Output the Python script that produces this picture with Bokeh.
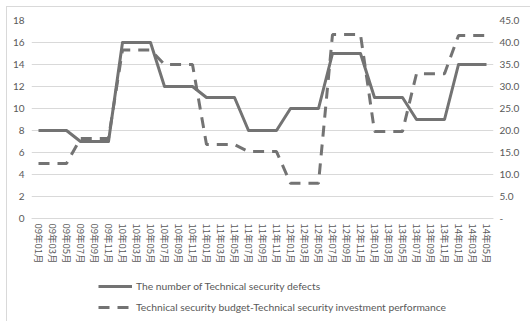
from bokeh.plotting import figure
from bokeh.models import (FactorRange, Range1d, LinearAxis, FixedTicker,
                          Legend, LegendItem, ColumnDataSource)
from bokeh.embed import file_html
from bokeh.resources import INLINE

# Bi-monthly periods, 2009-01 .. 2014-05
months = [
    "09年01月", "09年03月", "09年05月", "09年07月", "09年09月", "09年11月",
    "10年01月", "10年03月", "10年05月", "10年07月", "10年09月", "10年11月",
    "11年01月", "11年03月", "11年05月", "11年07月", "11年09月", "11年11月",
    "12年01月", "12年03月", "12年05月", "12年07月", "12年09月", "12年11月",
    "13年01月", "13年03月", "13年05月", "13年07月", "13年09月", "13年11月",
    "14年01月", "14年03月", "14年05月",
]

# Number of technical security defects (left axis)
defects = [8, 8, 8, 7, 7, 7, 16, 16, 16, 12, 12, 12, 11, 11, 11, 8, 8, 8,
           10, 10, 10, 15, 15, 15, 11, 11, 11, 9, 9, 9, 14, 14, 14]

# Budget vs. investment performance (right axis)
budget = [12.5, 12.5, 12.5, 18.2, 18.2, 18.2, 38.3, 38.3, 38.3, 35.0, 35.0, 35.0,
          16.8, 16.8, 16.8, 15.2, 15.2, 15.2, 8.0, 8.0, 8.0, 41.8, 41.8, 41.8,
          19.8, 19.8, 19.8, 32.9, 32.9, 32.9, 41.6, 41.6, 41.6]

left_ticks = [0, 2, 4, 6, 8, 10, 12, 14, 16, 18]
right_ticks = [0, 5, 10, 15, 20, 25, 30, 35, 40, 45]
right_labels = ["-", "5.0", "10.0", "15.0", "20.0", "25.0", "30.0", "35.0", "40.0", "45.0"]

series_names = ["The number of Technical security defects",
                "Technical security budget-Technical security investment performance"]

FONT = "Lato"
TEXT = "#595959"
GRID = "#d9d9d9"
LINE = "#737373"

# The frame runs down to the bottom of the chart so the category labels and
# the legend sit inside it; 0..18 on the left scale spans 198 px.
FRAME_H = 300
PX_PER_UNIT = 198 / 18
left_lo = 18 - FRAME_H / PX_PER_UNIT
right_lo = left_lo * 45 / 18

src = ColumnDataSource(dict(month=months, defects=defects, budget=budget))

p = figure(frame_width=462, frame_height=FRAME_H,
           x_range=FactorRange(factors=months, range_padding=0),
           y_range=Range1d(left_lo, 18),
           output_backend="svg", toolbar_location=None,
           min_border_left=24, min_border_right=38,
           min_border_top=13, min_border_bottom=2)
p.margin = (6, 0, 0, 6)
p.styles = {"border-left": f"1px solid {GRID}", "border-top": f"1px solid {GRID}"}
p.outline_line_color = None
p.background_fill_color = "white"
p.border_fill_color = "white"

p.extra_y_ranges = {"budget": Range1d(right_lo, 45)}

r1 = p.line("month", "defects", source=src, line_color=LINE, line_width=3,
            line_join="round")
r2 = p.line("month", "budget", source=src, y_range_name="budget",
            line_color=LINE, line_width=3, line_dash="11 8")


def plain_axis(axis, font, size, standoff):
    axis.axis_line_color = None
    axis.major_tick_line_color = None
    axis.minor_tick_line_color = None
    axis.major_tick_out = 0
    axis.major_tick_in = 0
    axis.minor_tick_out = 0
    axis.minor_tick_in = 0
    axis.major_label_text_font = font
    axis.major_label_text_font_size = size
    axis.major_label_text_color = TEXT
    axis.major_label_standoff = standoff


# left axis: defect counts
ax = p.yaxis[0]
ax.ticker = FixedTicker(ticks=left_ticks)
plain_axis(ax, FONT, "10px", 7)

# right axis: budget performance
ar = LinearAxis(y_range_name="budget", ticker=FixedTicker(ticks=right_ticks),
                major_label_overrides={t: s for t, s in zip(right_ticks, right_labels)})
plain_axis(ar, FONT, "10px", 6)
p.add_layout(ar, "right")

# category axis, pinned to the zero line
xa = p.xaxis[0]
plain_axis(xa, "Noto Sans CJK SC", "9.5px", 5)
xa.axis_line_color = GRID
xa.major_label_orientation = "vertical"
xa.fixed_location = 0

p.xgrid.grid_line_color = None
p.ygrid.grid_line_color = GRID
p.ygrid.ticker = FixedTicker(ticks=left_ticks)

legend = Legend(items=[LegendItem(label=series_names[0], renderers=[r1]),
                       LegendItem(label=series_names[1], renderers=[r2])],
                location=(67, 5), orientation="vertical")
legend.border_line_color = None
legend.background_fill_alpha = 0
legend.label_text_font = FONT
legend.label_text_font_size = "10.3px"
legend.label_text_color = TEXT
legend.glyph_width = 34
legend.glyph_height = 16
legend.label_height = 16
legend.label_standoff = 4
legend.spacing = 5
legend.padding = 0
legend.margin = 0
p.add_layout(legend, "center")

open("out.html", "w").write(file_html(p, INLINE))
